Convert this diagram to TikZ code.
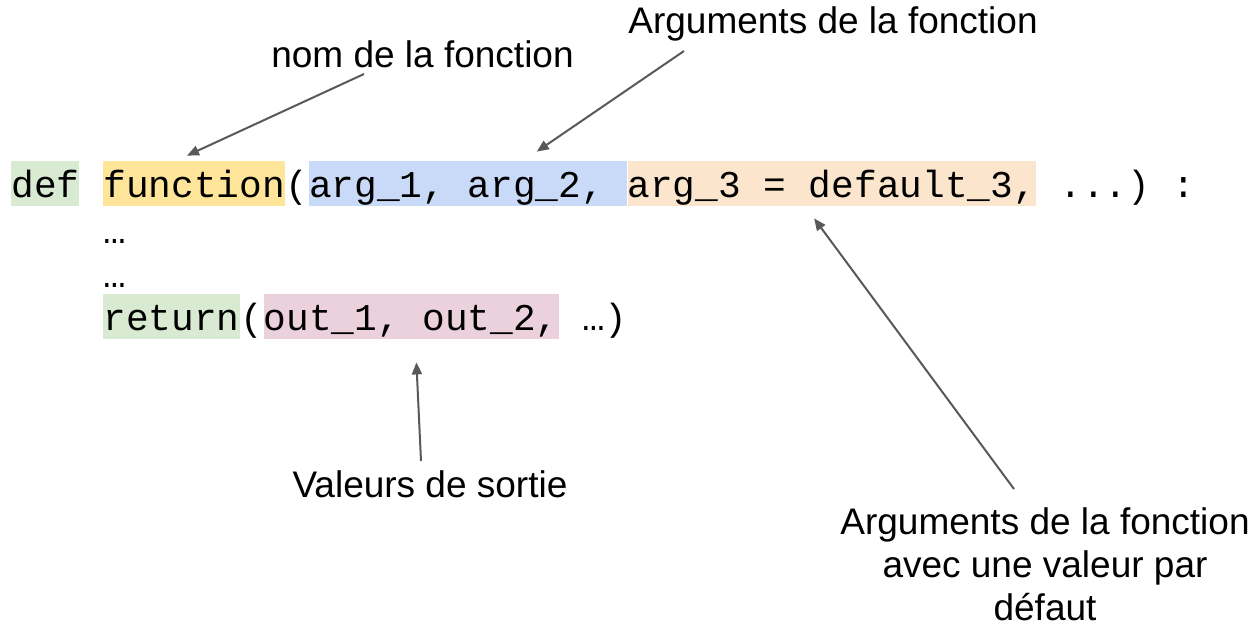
\documentclass[tikz,border=0pt]{standalone}
\usepackage{fontspec}
\setmainfont{Liberation Sans}
\newfontfamily\codefont{Liberation Mono}
\usetikzlibrary{arrows.meta, positioning, calc}
\definecolor{hlGreen}{HTML}{D9EAD3}
\definecolor{hlYellow}{HTML}{FFE599}
\definecolor{hlBlue}{HTML}{C9DAF8}
\definecolor{hlOrange}{HTML}{FCE5CD}
\definecolor{hlPink}{HTML}{EAD1DC}
\definecolor{arrowGray}{HTML}{595959}
\frenchspacing
\tikzset{
  arrowK/.style={-{Triangle[length=6pt, width=5pt]}, draw=arrowGray, line width=1pt},
  codebox/.style={font=\codefont\fontsize{18.9}{22}\selectfont, inner sep=0pt,
                  text height=18pt, text depth=4.5pt, anchor=base west},
  lbl/.style={font=\fontsize{18.5}{21.5}\selectfont, inner sep=0pt, align=center, anchor=base},
}
\begin{document}
\begin{tikzpicture}[x=0.5pt, y=-0.5pt, node distance=0pt]
    \useasboundingbox (0,0) rectangle (1258,629);
    \node[codebox, fill=hlGreen] (def) at (11,197) {def};
    \node[codebox, fill=hlYellow] (fn) at (103,197) {function};
    \node[codebox, right=of fn] (lp) {(};
    \node[codebox, fill=hlBlue, right=of lp] (args) {arg\_1, arg\_2,\hphantom{x}};
    \node[codebox, fill=hlOrange, right=of args] (dflt) {arg\_3 = default\_3,};
    \node[codebox, right=of dflt] (rest) {\hphantom{x}...) :};
    \node[codebox] (dots1) at (103,243) {…};
    \node[codebox] (dots2) at (103,287) {…};
    \node[codebox, fill=hlGreen] (ret) at (103,330) {return};
    \node[codebox, right=of ret] (rp) {(};
    \node[codebox, fill=hlPink, right=of rp] (outs) {out\_1, out\_2,};
    \node[codebox, right=of outs] (rrest) {\hphantom{x}…)};
    \node[lbl] (nom) at (422.5,67) {nom de la fonction};
    \node[lbl] (argl) at (833,33) {Arguments de la fonction};
    \node[lbl] (sortie) at (430,497) {Valeurs de sortie};
    \node[lbl] (dfltl) at (1045,620) {Arguments de la fonction\\avec une valeur par\\défaut};
    \draw[arrowK] ($(nom.base)+(-58.5,7)$) -- ($(fn.north west)+(84,-5)$);
    \draw[arrowK] ($(argl.base)+(-149,18)$) -- ($(args.north west)+(228,-9)$);
    \draw[arrowK] ($(sortie.base)+(-9,-36)$) -- ($(outs.south west)+(153,23)$);
    \draw[arrowK] ($(dfltl.base)+(-31,-131)$) -- ($(dflt.south west)+(187,12)$);
  \end{tikzpicture}
\end{document}
